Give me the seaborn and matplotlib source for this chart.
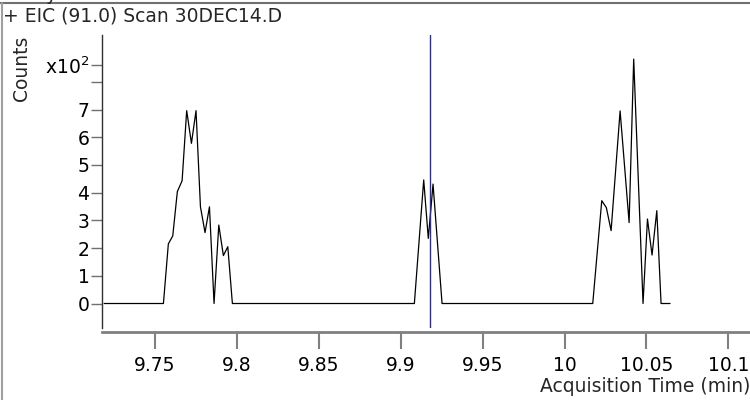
import matplotlib
matplotlib.use("Agg")
import matplotlib.pyplot as plt
import seaborn as sns
import pandas as pd
from matplotlib.lines import Line2D

# scan times (min) and counts
times = [9.7189, 9.7551, 9.7581, 9.7608, 9.7636, 9.7665, 9.7693, 9.7722, 9.7750,
         9.7777, 9.7805, 9.7832, 9.7860, 9.7889, 9.7917, 9.7944, 9.7972,
         9.9083, 9.9140, 9.9168, 9.9197, 9.9252,
         10.0172, 10.0227, 10.0255, 10.0284, 10.0339, 10.0394, 10.0422,
         10.0479, 10.0506, 10.0534, 10.0563, 10.0589, 10.0644]
counts = [0, 0, 215, 244, 404, 443, 696, 578, 696,
          349, 256, 349, 0, 283, 173, 205, 0,
          0, 446, 235, 431, 0,
          0, 371, 346, 263, 695, 292, 882,
          0, 305, 175, 335, 0, 0]

# cursor line
marker_time = 9.9177

x_ticks = [9.75, 9.80, 9.85, 9.90, 9.95, 10.00, 10.05, 10.10]
x_tick_labels = ["9.75", "9.8", "9.85", "9.9", "9.95", "10", "10.05", "10.1"]
y_ticks = [0, 100, 200, 300, 400, 500, 600, 700, 800, 860]
y_tick_labels = ["0", "1", "2", "3", "4", "5", "6", "7", "", "x10$^2$"]

df = pd.DataFrame({"time": times, "counts": counts})

sns.set_style("white")
plt.rcParams["font.family"] = ["DejaVu Sans"]
fs = 13.5

fig = plt.figure(figsize=(7.5, 4), dpi=100)
ax = fig.add_axes([0.136, 0.18, 0.864, 0.7325])

sns.lineplot(data=df, x="time", y="counts", ax=ax, color="black", lw=0.9,
             sort=False, estimator=None)
ax.axvline(marker_time, color="#2b2b99", lw=1)

ax.set_xlim(9.7176, 10.1132)
ax.set_ylim(-88.4, 969)
ax.set_xticks(x_ticks, x_tick_labels)
ax.set_yticks(y_ticks, y_tick_labels)
ax.set_xlabel("")
ax.set_ylabel("")

for s in ["top", "right"]:
    ax.spines[s].set_visible(False)
ax.spines["left"].set_color("#303030")
ax.spines["left"].set_linewidth(1)
ax.spines["bottom"].set_color("#808080")
ax.spines["bottom"].set_linewidth(2)
ax.spines["bottom"].set_position(("outward", 3))

ax.tick_params(axis="x", bottom=True, length=12, width=1.5, color="#808080",
               pad=5, labelsize=fs, labelcolor="black")
ax.tick_params(axis="y", left=True, length=8, width=1, color="#707070",
               pad=1, labelsize=fs, labelcolor="black")

# texts
fig.text(0.004, 1 - 16 / 400, "+ EIC (91.0) Scan 30DEC14.D", fontsize=fs, va="center", ha="left")
fig.text(22 / 750, 1 - 68 / 400, "Counts", fontsize=fs, rotation=90, va="center", ha="center")
fig.text(1.0, 1 - 386 / 400, "Acquisition Time (min)", fontsize=fs, va="center", ha="right")
fig.text(45 / 750, 399.5 / 400, "y", fontsize=fs, va="baseline", ha="left")

# frame edges of the cropped panel
fig.add_artist(Line2D([0, 1], [1 - 2.5 / 400] * 2, color="#707070", lw=1.5))
fig.add_artist(Line2D([2 / 750] * 2, [0, 1 - 2.5 / 400], color="#a0a0a0", lw=1.5))

fig.savefig("out.png", dpi=100)
